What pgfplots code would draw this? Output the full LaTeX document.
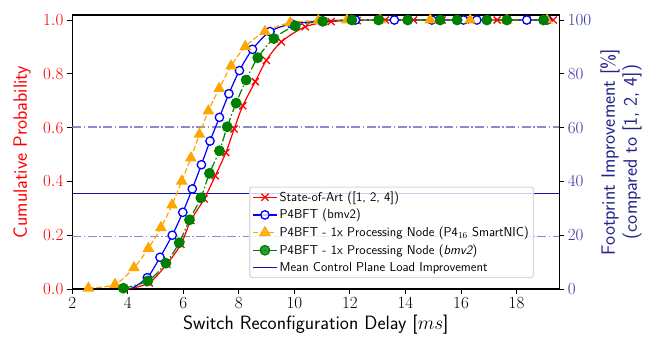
\RequirePackage{fix-cm}
\documentclass[border=0pt]{standalone}
\usepackage{fontspec}
\usepackage{pgfplots}
\pgfplotsset{compat=1.18}
\definecolor{rtick}{RGB}{55,55,160}
\definecolor{rlab}{RGB}{35,35,140}
\definecolor{lav}{RGB}{140,140,205}
\definecolor{orangec}{RGB}{255,165,0}
\definecolor{greenc}{RGB}{0,128,0}
\begin{document}
\begin{tikzpicture}
\path[use as bounding box] (-72.3pt,-52pt) rectangle (584.7pt,289pt);
\begin{axis}[
  scale only axis, width=487pt, height=274pt,
  xmin=2, xmax=19.54, ymin=0, ymax=101.86,
  axis x line=none, axis y line*=right,
  axis line style={line width=1.2pt, black, -},
  ytick={0,20,40,60,80,100},
  tick align=outside, major tick length=5pt, every tick/.style={black, line width=1pt},
  yticklabel style={rtick, font=\fontsize{17}{20}\selectfont},
  ylabel={Footprint Improvement [\%]\\(compared to [1, 2, 4])},
  ylabel style={at={(axis description cs:1.127,0.5)}, anchor=center, align=center, rlab, font=\sffamily\fontsize{19.3}{22}\selectfont},
]
\addplot[color={rgb,255:red,20;green,20;blue,170}, line width=1.4pt] coordinates {(2,35.5) (19.54,35.5)};
\end{axis}
\begin{axis}[
  scale only axis, width=487pt, height=274pt,
  xmin=2, xmax=19.54, ymin=0, ymax=1.0186,
  axis line style={line width=1.2pt, black},
  xtick={2,4,...,18}, ytick={0,0.2,0.4,0.6,0.8,1.0},
  xtick pos=left, ytick pos=left, tick align=outside,
  major tick length=5pt, every tick/.style={black, line width=1pt},
  ticklabel style={font=\fontsize{17}{20}\selectfont},
  yticklabel style={red, /pgf/number format/fixed, /pgf/number format/fixed zerofill, /pgf/number format/precision=1},
  xlabel={Switch Reconfiguration Delay [$ms$]},
  ylabel={Cumulative Probability},
  xlabel style={at={(axis description cs:0.5,-0.131)}, anchor=center, font=\sffamily\fontsize{19.3}{22}\selectfont},
  ylabel style={at={(axis description cs:-0.103,0.5)}, anchor=center, red, font=\sffamily\fontsize{19.3}{22}\selectfont},
  legend style={at={(0.948,0.04)}, anchor=south east, draw=black!15, rounded corners=2pt, fill=white, fill opacity=0.8, text opacity=1, font=\sffamily\fontsize{12.9}{15}\selectfont, cells={anchor=west}, row sep=2.5pt, inner sep=2.5pt},
  legend image code/.code={\draw[#1,mark repeat=2,mark phase=2] plot coordinates {(0pt,0pt) (12pt,0pt) (24pt,0pt)};},
  line width=1.2pt,
  clip=true,
]
\addplot[lav, line width=1.2pt, dash pattern=on 9pt off 2.5pt on 1.5pt off 2.5pt, forget plot] coordinates {(2,0.602) (19.54,0.602)};
\addplot[lav, line width=1.2pt, dash pattern=on 9pt off 2.5pt on 1.5pt off 2.5pt, forget plot] coordinates {(2,0.194) (19.54,0.194)};

\addplot[red, smooth, mark=x, mark size=5pt, mark repeat=1, mark phase=2, mark options={solid, line width=1.3pt}] coordinates {
(4.0,0) (4.77,0.023) (5.40,0.092) (5.91,0.166) (6.27,0.255) (6.75,0.335) (7.15,0.421) (7.53,0.507) (7.83,0.595) (8.14,0.681) (8.59,0.771) (8.99,0.850) (9.53,0.919) (10.39,0.975) (11.32,0.994) (12.26,0.998) (13.27,1.0) (14.29,1.0) (15.32,1.0) (16.15,1.0) (17.30,1.0) (18.38,1.0) (19.32,1.0)};
\addlegendentry{State-of-Art ([1, 2, 4])}

\addplot[blue, smooth, mark=*, mark size=4.2pt, mark repeat=1, mark phase=2, mark options={solid, fill=white, line width=1.3pt}] coordinates {
(4.1,0) (4.70,0.042) (5.16,0.118) (5.60,0.200) (5.98,0.285) (6.32,0.372) (6.65,0.462) (6.96,0.550) (7.30,0.638) (7.64,0.726) (8.02,0.812) (8.49,0.891) (9.12,0.957) (9.9,0.985) (11.0,0.996) (12.2,1.0) (13.6,1.0) (14.95,1.0) (16.09,1.0) (16.57,1.0) (18.37,1.0) (19.10,1.0)};
\addlegendentry{P4BFT (bmv2)}

\addplot[orangec, smooth, dash pattern=on 5.5pt off 2.5pt, mark=triangle*, mark size=5.6pt, mark repeat=1, mark phase=1, mark options={solid}] coordinates {
(2.58,0.003) (3.54,0.017) (4.22,0.079) (4.74,0.151) (5.19,0.228) (5.59,0.312) (5.94,0.401) (6.27,0.487) (6.58,0.575) (6.90,0.662) (7.29,0.745) (7.72,0.829) (8.23,0.901) (8.94,0.957) (9.85,0.990) (10.86,0.998) (11.89,1.0) (13.09,1.0) (14.89,1.0) (16.33,1.0) (17.65,1.0) (19.1,1.0)};
\addlegendentry{P4BFT - 1x Processing Node (P4$_{16}$ SmartNIC)}

\addplot[greenc, smooth, dash pattern=on 9pt off 2.5pt on 1.5pt off 2.5pt, mark=*, mark size=4.8pt, mark repeat=1, mark phase=1, mark options={solid}] coordinates {
(3.84,0.003) (4.72,0.030) (5.37,0.096) (5.85,0.172) (6.22,0.257) (6.63,0.339) (6.94,0.430) (7.30,0.514) (7.58,0.603) (7.90,0.691) (8.26,0.777) (8.68,0.860) (9.26,0.931) (10.03,0.978) (11.02,0.995) (12.07,1.0) (13.03,1.0) (14.08,1.0) (15.25,1.0) (15.86,1.0) (16.93,1.0) (17.65,1.0) (18.97,1.0)};
\addlegendentry{P4BFT - 1x Processing Node (\itshape bmv2\upshape)}

\addlegendimage{color={rgb,255:red,20;green,20;blue,170}, line width=1.4pt}
\addlegendentry{Mean Control Plane Load Improvement}
\end{axis}
\end{tikzpicture}
\end{document}
